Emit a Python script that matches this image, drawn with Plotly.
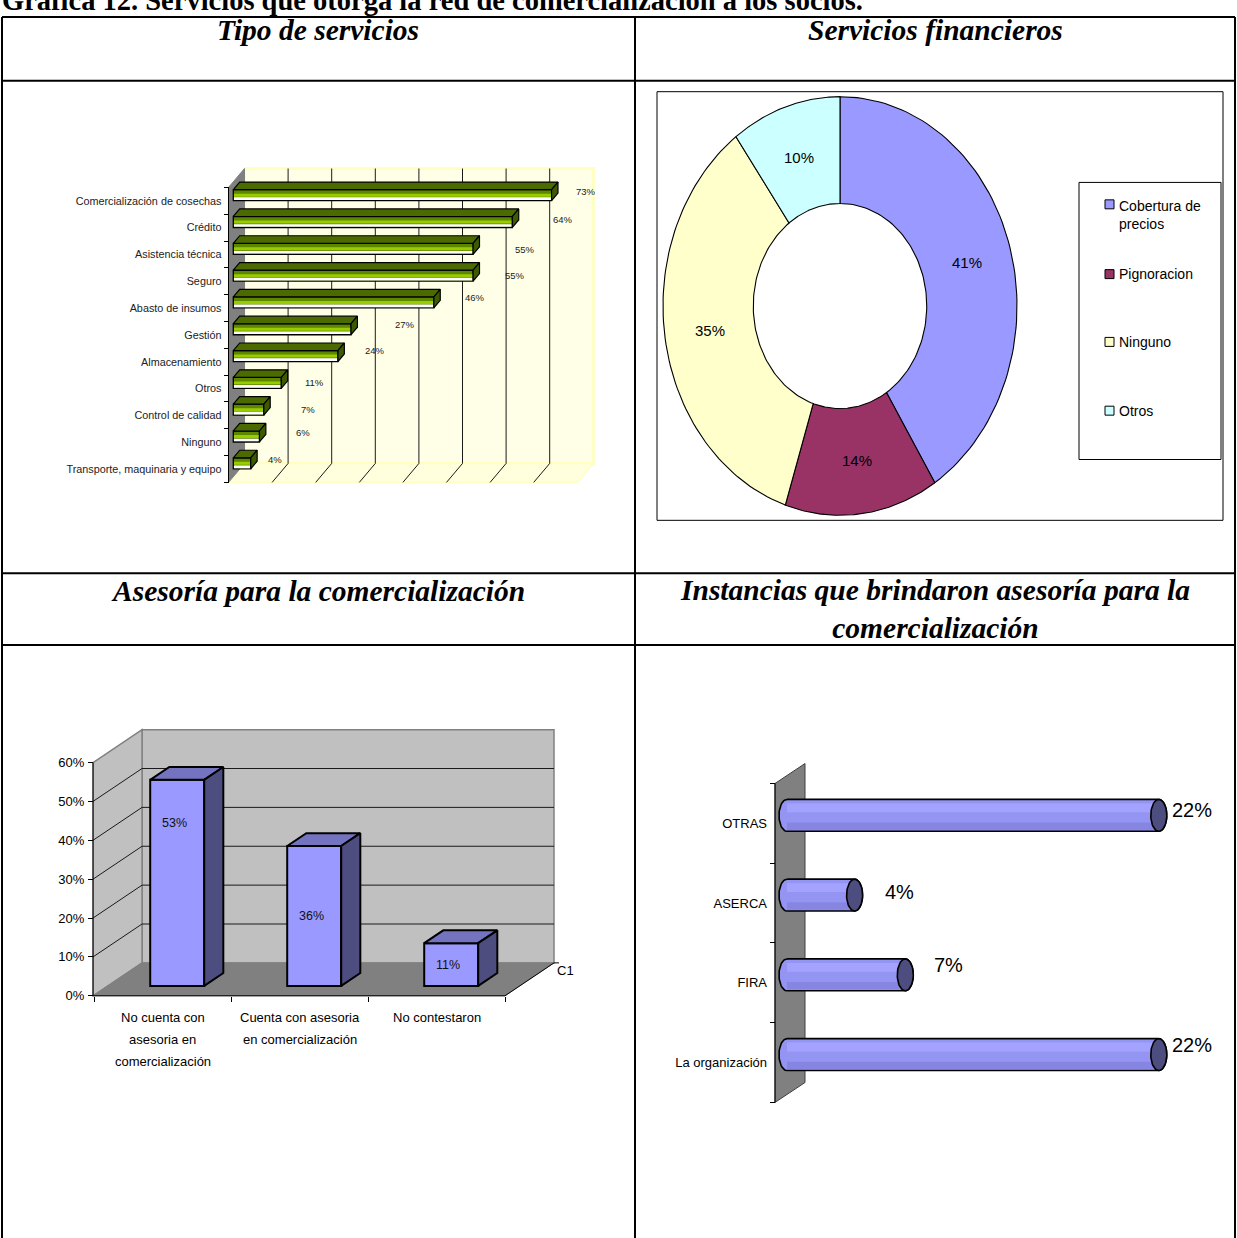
import math
import plotly.graph_objects as go

W, H = 1237, 1238

# ---------------- data ----------------
servicios = ["Comercialización de cosechas", "Crédito", "Asistencia técnica", "Seguro",
             "Abasto de insumos", "Gestión", "Almacenamiento", "Otros",
             "Control de calidad", "Ninguno", "Transporte, maquinaria y equipo"]
servicios_pct = [73, 64, 55, 55, 46, 27, 24, 11, 7, 6, 4]

financieros = ["Cobertura de precios", "Pignoracion", "Ninguno", "Otros"]
financieros_pct = [41, 14, 35, 10]

asesoria = ["No cuenta con<br>asesoria en<br>comercialización",
            "Cuenta con asesoria<br>en comercialización",
            "No contestaron"]
asesoria_pct = [53, 36, 11]
asesoria_ticks = [0, 10, 20, 30, 40, 50, 60]

instancias = ["OTRAS", "ASERCA", "FIRA", "La organización"]
instancias_pct = [22, 4, 7, 22]

# label nudges (pixels) for the value labels
servicios_label_dx = [34, 51, 52, 42, 41, 54, 37, 33, 44, 44, 24]
servicios_label_dy = [-9.5, -8.4, -5.3, -6.2, -11, -10, -11, -5.8, -5.7, -9.6, -9.5]
instancias_label_dx = [33, 45, 43, 33]
instancias_label_dy = [-5, -3, -10, -10]
asesoria_label_frac = [0.79, 0.5, 0.5]

SANS = "Liberation Sans"
SERIF = "Liberation Serif"


def fx(px):
    return px / W


def fy(py):
    return 1 - py / H


fig = go.Figure()
annotations = []
shapes = []


def add_polys(polys, fill, line="black", lw=1.0, xa="x", ya="y"):
    """Filled polygons drawn as a scatter trace (above bars)."""
    xs, ys = [], []
    for pts in polys:
        for (a, b) in pts:
            xs.append(a)
            ys.append(b)
        xs.append(pts[0][0])
        ys.append(pts[0][1])
        xs.append(None)
        ys.append(None)
    fig.add_trace(go.Scatter(x=xs, y=ys, xaxis=xa, yaxis=ya, mode="lines", fill="toself",
                             fillcolor=fill, line=dict(color=line, width=lw),
                             hoverinfo="skip", showlegend=False))


def back_poly(pts, fill, line, lw, xa, ya):
    """Filled polygon in data coordinates drawn beneath the traces."""
    path = "M " + " L ".join(f"{a},{b}" for a, b in pts) + " Z"
    shapes.append(dict(type="path", path=path, xref=xa, yref=ya, layer="below",
                       fillcolor=fill, line=dict(color=line, width=lw)))


def back_line(p, q, color, lw, xa, ya):
    shapes.append(dict(type="line", x0=p[0], y0=p[1], x1=q[0], y1=q[1], xref=xa, yref=ya,
                       layer="below", line=dict(color=color, width=lw)))


# ============ Chart 1: Tipo de servicios (3D horizontal bars) ============
X0_1, S1 = 228.5, 4.36        # front plane origin (px) and px per %
ROW1, SP1 = 201.5, 26.9       # first row centre (px) and row pitch
D1x, D1y = 16 / S1, 19 / SP1  # depth vector in data units
n1 = len(servicios)
bot1 = -(n1 - 1) - 0.5
top1 = 0.5
BACK1 = 80

back_poly([(D1x, top1 + D1y), (BACK1 + D1x, top1 + D1y), (BACK1 + D1x, bot1 + D1y), (D1x, bot1 + D1y)],
          "#FFFFE8", "#FFFFC0", 3, "x", "y")
back_poly([(0, bot1), (BACK1, bot1), (BACK1 + D1x, bot1 + D1y), (D1x, bot1 + D1y)],
          "#FFFFDE", "#FFFFC4", 1.5, "x", "y")
for v in range(10, 80, 10):
    back_line((v + D1x, bot1 + D1y), (v + D1x, top1 + D1y), "black", 0.9, "x", "y")
    back_line((v, bot1), (v + D1x, bot1 + D1y), "black", 0.9, "x", "y")
back_poly([(0, top1), (D1x, top1 + D1y), (D1x, bot1 + D1y), (0, bot1)], "#808080", "#808080", 1, "x", "y")
back_line((0, top1), (0, bot1), "black", 1, "x", "y")

d0, d1 = 0.3, 0.7
h1 = 0.205
rows1 = [-i for i in range(n1)]
yc1 = [r + d0 * D1y for r in rows1]
xl1 = d0 * D1x
fig.add_trace(go.Bar(x=servicios_pct, y=yc1, base=xl1, orientation="h", width=2 * h1,
                     marker=dict(color="#5E8700", line=dict(color="black", width=1.3)),
                     xaxis="x", yaxis="y", hoverinfo="skip", showlegend=False))
fig.add_trace(go.Bar(x=[v - 0.3 for v in servicios_pct], y=yc1, base=xl1 + 0.15,
                     orientation="h", width=0.11, marker=dict(color="#99CC00", line=dict(width=0)),
                     xaxis="x", yaxis="y", hoverinfo="skip", showlegend=False))
fig.add_trace(go.Bar(x=[v - 0.3 for v in servicios_pct], y=[c - 0.13 for c in yc1], base=xl1 + 0.15,
                     orientation="h", width=0.1, marker=dict(color="#FFFFFF", line=dict(width=0)),
                     xaxis="x", yaxis="y", hoverinfo="skip", showlegend=False))
ddx, ddy = (d1 - d0) * D1x, (d1 - d0) * D1y
tops, ends = [], []
for v, c in zip(servicios_pct, yc1):
    xr = xl1 + v
    yt, yb = c + h1, c - h1
    tops.append([(xl1, yt), (xr, yt), (xr + ddx, yt + ddy), (xl1 + ddx, yt + ddy)])
    ends.append([(xr, yb), (xr, yt), (xr + ddx, yt + ddy), (xr + ddx, yb + ddy)])
add_polys(tops, "#4B6B00", "black", 1.2)
add_polys(ends, "#3E5A00", "black", 1.2)
for v, r, dx, dy in zip(servicios_pct, rows1, servicios_label_dx, servicios_label_dy):
    annotations.append(dict(x=xl1 + v + dx / S1, y=r - dy / SP1, xref="x", yref="y", text=f"{v}%",
                            showarrow=False, font=dict(family=SANS, size=9.5, color="#222222")))

# ============ Chart 2: Servicios financieros (donut) ============
CX2, CY2, RX2, RY2 = 840, 307, 177, 210
R_IN = 0.49
colors2 = ["#9999FF", "#993366", "#FFFFCC", "#CCFFFF"]
total2 = sum(financieros_pct)
cum = 0
for v, col in zip(financieros_pct, colors2):
    a0 = 2 * math.pi * cum / total2
    a1 = 2 * math.pi * (cum + v) / total2
    steps = 80
    ts = [a0 + (a1 - a0) * k / steps for k in range(steps + 1)]
    pts = [(math.sin(t), math.cos(t)) for t in ts] + [(R_IN * math.sin(t), R_IN * math.cos(t)) for t in reversed(ts)]
    add_polys([pts], col, "black", 1.1, "x2", "y2")
    am = (a0 + a1) / 2
    rl = (1 + R_IN) / 2
    annotations.append(dict(x=rl * math.sin(am), y=rl * math.cos(am), xref="x2", yref="y2",
                            text=f"{v}%", showarrow=False, font=dict(family=SANS, size=15, color="black")))
    cum += v

# chart frame and legend box
shapes.append(dict(type="rect", xref="paper", yref="paper", x0=fx(657), x1=fx(1223), y0=fy(522), y1=fy(92),
                   line=dict(color="black", width=1)))
shapes.append(dict(type="rect", xref="paper", yref="paper", x0=fx(1079), x1=fx(1221), y0=fy(461), y1=fy(183),
                   line=dict(color="black", width=1)))
leg_y = [215.5, 275, 343, 412]
leg_sq = [205, 275, 343, 412]
leg_txt = ["Cobertura de<br>precios", "Pignoracion", "Ninguno", "Otros"]
for ty, sy, t, col in zip(leg_y, leg_sq, leg_txt, colors2):
    shapes.append(dict(type="rect", xref="paper", yref="paper", x0=fx(1105), x1=fx(1114),
                       y0=fy(sy + 4.5), y1=fy(sy - 4.5), fillcolor=col, line=dict(color="black", width=1)))
    annotations.append(dict(x=fx(1117), y=fy(ty), xref="paper", yref="paper", text=t, showarrow=False,
                            xanchor="left", yanchor="middle", align="left",
                            font=dict(family=SANS, size=14, color="black")))

# ============ Chart 3: Asesoría (3D columns) ============
CX3, CS3 = 162.5, 137.0       # first category centre (px), category pitch
Y03, S3 = 999.0, 3.9          # front zero line (px), px per %
DXc, DYc = 49 / CS3, 33 / S3
L3, R3 = -0.507, 2.5
TOP3 = 60

back_poly([(L3 + DXc, DYc), (R3 + DXc, DYc), (R3 + DXc, TOP3 + DYc), (L3 + DXc, TOP3 + DYc)],
          "#C0C0C0", "#808080", 1.5, "x3", "y3")
back_poly([(L3, 0), (L3, TOP3), (L3 + DXc, TOP3 + DYc), (L3 + DXc, DYc)],
          "#C0C0C0", "#808080", 1.5, "x3", "y3")
for v in range(10, 60, 10):
    back_line((L3 + DXc, v + DYc), (R3 + DXc, v + DYc), "#1A1A1A", 1, "x3", "y3")
    back_line((L3, v), (L3 + DXc, v + DYc), "#1A1A1A", 1, "x3", "y3")
back_poly([(L3, 0), (R3, 0), (R3 + DXc, DYc), (L3 + DXc, DYc)], "#808080", "#808080", 1, "x3", "y3")
back_line((L3, 0), (L3, TOP3), "black", 1, "x3", "y3")
back_line((L3, 0), (R3, 0), "black", 1, "x3", "y3")
back_line((R3, 0), (R3 + DXc, DYc), "black", 1, "x3", "y3")
back_line((R3 + DXc, DYc), (R3 + DXc + 5 / CS3, DYc), "black", 1, "x3", "y3")
annotations.append(dict(x=fx(565), y=fy(983), xref="paper", yref="paper", text="C1", showarrow=False,
                        font=dict(family=SANS, size=13, color="black")))

e0, e1 = 0.3, 0.69
w3 = 54 / CS3
cats3 = list(range(len(asesoria)))
xc3 = [k + e0 * DXc for k in cats3]
fig.add_trace(go.Bar(x=xc3, y=asesoria_pct, base=e0 * DYc, width=w3,
                     marker=dict(color="#9999FF", line=dict(color="black", width=2)),
                     xaxis="x3", yaxis="y3", hoverinfo="skip", showlegend=False))
tdx, tdy = (e1 - e0) * DXc, (e1 - e0) * DYc
tops3, sides3 = [], []
for v, c in zip(asesoria_pct, xc3):
    xl, xr = c - w3 / 2, c + w3 / 2
    yb, yt = e0 * DYc, e0 * DYc + v
    tops3.append([(xl, yt), (xr, yt), (xr + tdx, yt + tdy), (xl + tdx, yt + tdy)])
    sides3.append([(xr, yb), (xr, yt), (xr + tdx, yt + tdy), (xr + tdx, yb + tdy)])
add_polys(tops3, "#7373C0", "black", 2, "x3", "y3")
add_polys(sides3, "#4D4D80", "black", 2, "x3", "y3")
for v, c, fr in zip(asesoria_pct, xc3, asesoria_label_frac):
    annotations.append(dict(x=c - 0.02, y=e0 * DYc + fr * v, xref="x3", yref="y3", text=f"{v}%",
                            showarrow=False, font=dict(family=SANS, size=12.5, color="#111111")))
# category captions, one line at a time
for k, name in zip(cats3, asesoria):
    for j, part in enumerate(name.split("<br>")):
        annotations.append(dict(x=fx(CX3 + CS3 * k), y=fy(1021 + 22 * j), xref="paper", yref="paper",
                                text=part, showarrow=False, xanchor="center", yanchor="middle",
                                font=dict(family=SANS, size=13, color="black")))

# ============ Chart 4: Instancias (3D cylinders) ============
X04, S4 = 775.0, 16.9
ROW4, SP4 = 826.0, 80.0
D4x, D4y = 30 / S4, 20 / SP4
n4 = len(instancias)
top4, bot4 = 0.5, -(n4 - 1) - 0.5
back_poly([(0, top4), (D4x, top4 + D4y), (D4x, bot4 + D4y), (0, bot4)], "#808080", "#404040", 1, "x4", "y4")
back_line((0, top4), (0, bot4), "black", 1, "x4", "y4")

g0 = 0.4
hh = 0.2
cap_a = 8 / S4
rows4 = [-i for i in range(n4)]
bodies, bands_hi, bands_lo, caps = [], [], [], []
for v, r in zip(instancias_pct, rows4):
    yc = r + g0 * D4y
    xl = g0 * D4x
    xr = xl + v
    left_arc = [(xl - cap_a * math.sin(math.pi * k / 30), yc + hh * math.cos(math.pi * k / 30)) for k in range(31)]
    right_arc = [(xr + cap_a * math.sin(math.pi * k / 30), yc - hh * math.cos(math.pi * k / 30)) for k in range(31)]
    bodies.append(left_arc + right_arc)
    bands_hi.append([(xl, yc + 0.04), (xr, yc + 0.04), (xr, yc + 0.15), (xl, yc + 0.15)])
    bands_lo.append([(xl, yc - 0.185), (xr, yc - 0.185), (xr, yc - 0.09), (xl, yc - 0.09)])
    caps.append([(xr + cap_a * math.cos(2 * math.pi * k / 60), yc + hh * math.sin(2 * math.pi * k / 60))
                 for k in range(60)])
add_polys(bodies, "#9494F2", "black", 1.6, "x4", "y4")
add_polys(bands_hi, "#A3A3FF", "rgba(0,0,0,0)", 0, "x4", "y4")
add_polys(bands_lo, "#8686E2", "rgba(0,0,0,0)", 0, "x4", "y4")
add_polys(caps, "#4D4D80", "black", 1.6, "x4", "y4")
for v, r, dx, dy in zip(instancias_pct, rows4, instancias_label_dx, instancias_label_dy):
    annotations.append(dict(x=g0 * D4x + v + dx / S4, y=r + g0 * D4y - dy / SP4,
                            xref="x4", yref="y4", text=f"{v}%", showarrow=False,
                            font=dict(family=SANS, size=20, color="black")))

# ============ table grid, headings and title ============
grid = [
    (2, 17, 2, H + 5), (1235, 17, 1235, H + 5), (2, 17, 1235, 17), (635, 17, 635, H + 5),
    (2, 81, 1235, 81), (2, 575, 1235, 575), (2, 647, 1235, 647),
]
for (a, b, c, d) in grid:
    shapes.append(dict(type="line", xref="paper", yref="paper", x0=fx(a), y0=fy(b), x1=fx(c), y1=fy(d),
                       line=dict(color="black", width=2)))

heads = [
    (318, 30, "Tipo de servicios"),
    (935, 30, "Servicios financieros"),
    (318, 593, "Asesoría para la comercialización"),
    (935, 611, "Instancias que brindaron asesoría para la<br>comercialización"),
]
for (x, y, t) in heads:
    annotations.append(dict(x=fx(x), y=fy(y), xref="paper", yref="paper", text=f"<b><i>{t}</i></b>",
                            showarrow=False, xanchor="center", yanchor="middle",
                            font=dict(family=SERIF, size=29.5, color="black")))
annotations.append(dict(x=0, y=fy(1), xref="paper", yref="paper",
                        text="<b>Gráfica 12. Servicios que otorga la red de comercialización a los socios.</b>",
                        showarrow=False, xanchor="left", yanchor="middle",
                        font=dict(family=SERIF, size=28.5, color="black")))

# ============ axes ============
hidden = dict(visible=False, showgrid=False, zeroline=False, fixedrange=True)
fig.update_layout(
    width=W, height=H, margin=dict(l=0, r=0, t=0, b=0), autosize=False,
    paper_bgcolor="white", plot_bgcolor="rgba(0,0,0,0)", showlegend=False,
    barmode="overlay", font=dict(family=SANS, color="black"),
    xaxis=dict(hidden, domain=[fx(224), fx(625)], range=[(224 - X0_1) / S1, (625 - X0_1) / S1], anchor="y"),
    yaxis=dict(domain=[fy(500), fy(150)], range=[-(500 - ROW1) / SP1, (ROW1 - 150) / SP1],
               anchor="free", position=fx(X0_1), showgrid=False, zeroline=False, showline=False,
               tickmode="array", tickvals=rows1, ticktext=servicios, ticks="", ticklabelstandoff=7,
               minor=dict(tickmode="array", tickvals=[r + 0.5 for r in rows1] + [bot1], ticks="outside",
                          ticklen=5, tickcolor="black", tickwidth=1, showgrid=False),
               tickfont=dict(family=SANS, size=10.8, color="#222222"), fixedrange=True),
    xaxis2=dict(hidden, domain=[fx(660), fx(1022)], range=[(660 - CX2) / RX2, (1022 - CX2) / RX2], anchor="y2"),
    yaxis2=dict(hidden, domain=[fy(520), fy(95)], range=[(CY2 - 520) / RY2, (CY2 - 95) / RY2], anchor="x2"),
    xaxis3=dict(domain=[fx(89), fx(600)], range=[(89 - CX3) / CS3, (600 - CX3) / CS3],
                anchor="free", position=fy(Y03), showgrid=False, zeroline=False, showline=False,
                tickmode="array", tickvals=cats3, ticktext=["" for _ in cats3], ticks="",
                minor=dict(tickmode="array", tickvals=[-0.5, 0.5, 1.5, 2.5], ticks="outside",
                           ticklen=5, tickcolor="black", tickwidth=1, showgrid=False),
                fixedrange=True),
    yaxis3=dict(domain=[fy(1003), fy(715)], range=[-(1003 - Y03) / S3, (Y03 - 715) / S3],
                anchor="free", position=fx(93), showgrid=False, zeroline=False, showline=False,
                tickmode="array", tickvals=asesoria_ticks, ticktext=[f"{t}%" for t in asesoria_ticks],
                ticks="outside", ticklen=5, tickcolor="black", ticklabelstandoff=1,
                tickfont=dict(family=SANS, size=13, color="black"), fixedrange=True),
    xaxis4=dict(hidden, domain=[fx(771), fx(1236)], range=[(771 - X04) / S4, (1236 - X04) / S4], anchor="y4"),
    yaxis4=dict(domain=[fy(1112), fy(758)], range=[-(1112 - ROW4) / SP4, (ROW4 - 758) / SP4],
                anchor="free", position=fx(X04), showgrid=False, zeroline=False, showline=False,
                tickmode="array", tickvals=rows4, ticktext=instancias, ticks="", ticklabelstandoff=8,
                minor=dict(tickmode="array", tickvals=[r + 0.5 for r in rows4] + [bot4], ticks="outside",
                           ticklen=5, tickcolor="black", tickwidth=1, showgrid=False),
                tickfont=dict(family=SANS, size=13, color="black"), fixedrange=True),
    annotations=annotations, shapes=shapes,
)

fig.write_html("out.html")
